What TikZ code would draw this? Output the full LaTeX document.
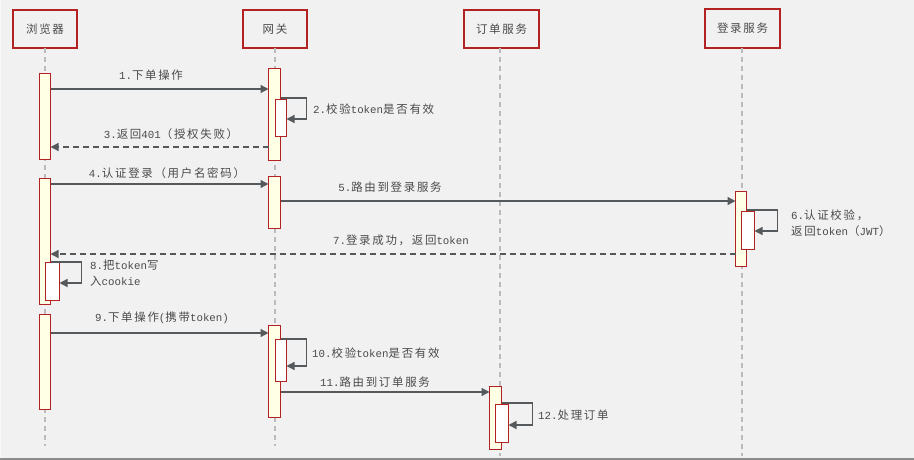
\documentclass[tikz,border=0pt]{standalone}
\usepackage{fontspec}
\setmainfont{Liberation Mono}
\newfontfamily\cjk[LetterSpace=15,Scale=1.06]{Noto Sans CJK SC}
\newcommand\zh[1]{{\cjk #1}}
\usetikzlibrary{arrows.meta}
\definecolor{bgc}{HTML}{F1F1F1}
\definecolor{redb}{HTML}{B22222}
\definecolor{actf}{HTML}{FFFFE6}
\definecolor{linec}{HTML}{55595C}
\definecolor{lifec}{HTML}{BBBBBB}
\definecolor{txtc}{HTML}{4A4A4A}
\begin{document}
\begin{tikzpicture}[x=1pt,y=-1pt,
  every node/.style={font=\fontsize{10.8}{16}\selectfont, text=txtc},
  head/.style={draw=redb, line width=1.5pt, minimum width=64pt, minimum height=38pt, inner sep=0pt, outer sep=0pt},
  act/.style={draw=redb, fill=actf, line width=0.9pt, inner sep=0pt, outer sep=0pt, anchor=north west},
  actn/.style={act, fill=white},
  life/.style={draw=lifec, line width=1.2pt, dash pattern=on 5pt off 4pt},
  msg/.style={draw=linec, line width=1.3pt, -{Triangle[length=8pt,width=8pt]}},
  ret/.style={msg, dash pattern=on 6pt off 4pt},
  lbl/.style={inner sep=0pt},
  lbll/.style={inner sep=0pt, anchor=west, align=left}
]
\useasboundingbox (0,0) rectangle (914,460);
\fill[bgc] (0,0) rectangle (914,458);
\fill[white!60!bgc] (0,0) rectangle (1.2,458);
\fill[black!45] (0,457.5) rectangle (914,460);

% headers
\node[head] (hb) at (45,29) {\zh{浏览器}};
\node[head] (hg) at (275,29) {\zh{网关}};
\node[head, minimum width=75pt] (ho) at (501.5,29) {\zh{订单服务}};
\node[head, minimum width=75pt, minimum height=39pt] (hl) at (742.5,28.5) {\zh{登录服务}};

% lifelines
\coordinate (eb) at (45,446);
\coordinate (eg) at (275,446);
\coordinate (eo) at (500,456);
\coordinate (el) at (742,456);
\draw[life] (hb.south -| eb) -- (eb);
\draw[life] (hg.south -| eg) -- (eg);
\draw[life] (ho.south -| eo) -- (eo);
\draw[life] (hl.south -| el) -- (el);

% activations
\node[act, minimum width=11pt, minimum height=86pt] (b1) at (39.5,73.5) {};
\node[act, minimum width=12pt, minimum height=92pt] (g1) at (268.5,68.5) {};
\node[actn, minimum width=11pt, minimum height=37pt] (g1n) at (275.5,99.5) {};
\node[act, minimum width=11pt, minimum height=126pt] (b2) at (39.5,178.5) {};
\node[actn, minimum width=14pt, minimum height=38pt] (b2n) at (45.5,262.5) {};
\node[act, minimum width=12pt, minimum height=52pt] (g2) at (268.5,176.5) {};
\node[act, minimum width=11pt, minimum height=75pt] (l1) at (735.5,191.5) {};
\node[actn, minimum width=13pt, minimum height=38pt] (l1n) at (741.5,211.5) {};
\node[act, minimum width=11pt, minimum height=95pt] (b3) at (39.5,314.5) {};
\node[act, minimum width=12pt, minimum height=92pt] (g3) at (268.5,325.5) {};
\node[actn, minimum width=11pt, minimum height=42pt] (g3n) at (275.5,339.5) {};
\node[act, minimum width=12pt, minimum height=63pt] (o1) at (489.5,386.5) {};
\node[actn, minimum width=13pt, minimum height=38pt] (o1n) at (495.5,404.5) {};

% messages
\draw[msg] (b1.east |- 0,89) -- (g1.west |- 0,89);
\node[lbl] (t1) at (151,75) {1.\zh{下单操作}};

\draw[msg] (g1.east |- 0,98) -- ++(26,0) |- (g1n.east |- 0,119);
\node[lbll] (t2) at (313,109) {2.\zh{校验}token\zh{是否有效}};

\draw[ret] (g1.west |- 0,147) -- (b1.east |- 0,147);
\node[lbl] (t3) at (171,134) {3.\zh{返回}401\zh{（授权失败）}};

\draw[msg] (b2.east |- 0,184) -- (g2.west |- 0,184);
\node[lbl] (t4) at (167,173) {4.\zh{认证登录（用户名密码）}};

\draw[msg] (g2.east |- 0,201) -- (l1.west |- 0,201);
\node[lbl] (t5) at (390,187) {5.\zh{路由到登录服务}};

\draw[msg] (l1.east |- 0,210) -- ++(31,0) |- (l1n.east |- 0,231);
\node[lbll] (t6) at (791,223.5) {6.\zh{认证校验，}\\\zh{返回}token\zh{（}JWT\zh{）}};

\draw[ret] (l1.west |- 0,254) -- (b2.east |- 0,254);
\node[lbl] (t7) at (401,240) {7.\zh{登录成功，返回}token};

\draw[msg] (b2.east |- 0,262) -- ++(31,0) |- (b2n.east |- 0,283);
\node[lbll] (t8) at (90,273.5) {8.\zh{把}token\zh{写}\\\zh{入}cookie};

\draw[msg] (b3.east |- 0,333) -- (g3.west |- 0,333);
\node[lbl] (t9) at (162,318) {9.\zh{下单操作}(\zh{携带}token)};

\draw[msg] (g3.east |- 0,339) -- ++(26,0) |- (g3n.east |- 0,366);
\node[lbll] (t10) at (312,353) {10.\zh{校验}token\zh{是否有效}};

\draw[msg] (g3.east |- 0,392) -- (o1.west |- 0,392);
\node[lbl] (t11) at (375,382) {11.\zh{路由到订单服务}};

\draw[msg] (o1.east |- 0,403) -- ++(31,0) |- (o1n.east |- 0,425);
\node[lbll] (t12) at (538,415) {12.\zh{处理订单}};
\end{tikzpicture}
\end{document}
